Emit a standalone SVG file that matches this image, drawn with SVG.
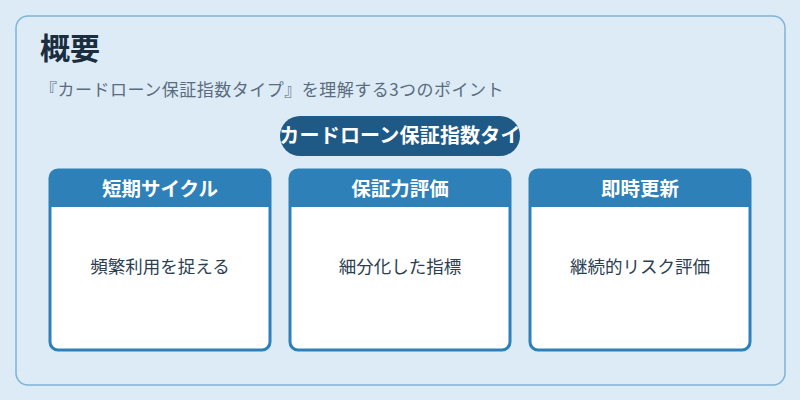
<svg xmlns="http://www.w3.org/2000/svg" width="800" height="400" viewBox="0 0 800 400">
<style>
.ja{font-family:"Noto Sans CJK JP","Noto Sans",sans-serif}
.card{fill:#ffffff;stroke:#2e80b8;stroke-width:3}
.head{fill:#2e80b8}
.ht{font-size:19.5px;font-weight:bold;fill:#ffffff;text-anchor:middle}
.bt{font-size:17.5px;fill:#2c3e50;text-anchor:middle}
</style>
<defs>
<clipPath id="c1"><rect x="50" y="170" width="220" height="180" rx="8"/></clipPath>
<clipPath id="c2"><rect x="290" y="170" width="220" height="180" rx="8"/></clipPath>
<clipPath id="c3"><rect x="530" y="170" width="220" height="180" rx="8"/></clipPath>
</defs>
<rect width="800" height="400" fill="#dcebf6"/>
<rect x="16" y="16" width="769" height="369" rx="12" fill="#dcebf6" stroke="#7fb3d6" stroke-width="1.5"/>
<text class="ja" x="40" y="59" font-size="30" font-weight="bold" fill="#1a2e40">概要</text>
<text class="ja" x="40" y="96" font-size="17" letter-spacing="0.5" fill="#5a6c7d">『カードローン保証指数タイプ』を理解する3つのポイント</text>
<g id="pill">
<rect x="280" y="116" width="240" height="40" rx="20" fill="#1f5a87"/>
<text class="ja" x="400" y="143" font-size="20" font-weight="bold" fill="#ffffff" text-anchor="middle" letter-spacing="0.2">カードローン保証指数タイ</text>
</g>
<g id="connectors"></g>
<g id="card1">
<rect class="card" x="50" y="170" width="220" height="180" rx="8"/>
<rect class="head" x="50" y="170" width="220" height="37" clip-path="url(#c1)"/>
<text class="ja ht" x="160" y="196">短期サイクル</text>
<text class="ja bt" x="160" y="273">頻繁利用を捉える</text>
</g>
<g id="card2">
<rect class="card" x="290" y="170" width="220" height="180" rx="8"/>
<rect class="head" x="290" y="170" width="220" height="37" clip-path="url(#c2)"/>
<text class="ja ht" x="400" y="196">保証力評価</text>
<text class="ja bt" x="400" y="273">細分化した指標</text>
</g>
<g id="card3">
<rect class="card" x="530" y="170" width="220" height="180" rx="8"/>
<rect class="head" x="530" y="170" width="220" height="37" clip-path="url(#c3)"/>
<text class="ja ht" x="640" y="196">即時更新</text>
<text class="ja bt" x="640" y="273">継続的リスク評価</text>
</g>
</svg>
